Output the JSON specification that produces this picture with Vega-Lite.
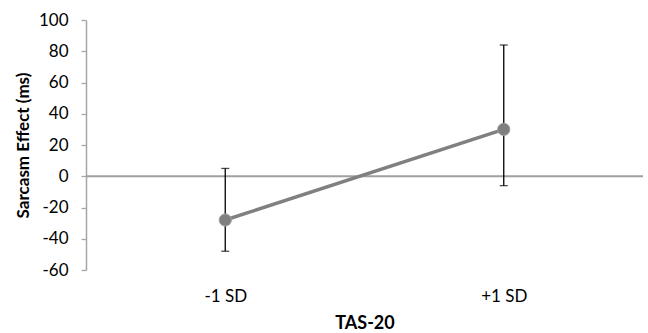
{
  "$schema": "https://vega.github.io/schema/vega-lite/v6.json",
  "width": 557,
  "height": 250,
  "autosize": {"type": "none"},
  "padding": {"left": 86, "top": 20, "right": 5, "bottom": 63},
  "background": "white",
  "config": {"view": {"stroke": null}, "font": "Lato"},
  "datasets": {
    "pts": [
      {"group": "-1 SD", "effect": -28, "lo": -48, "hi": 5},
      {"group": "+1 SD", "effect": 30, "lo": -6, "hi": 84}
    ],
    "zero": [{"v": 0}]
  },
  "layer": [
    {
      "data": {"name": "zero"},
      "mark": {"type": "rule", "color": "#a0a0a0", "strokeWidth": 2},
      "encoding": {
        "y": {"field": "v", "type": "quantitative",
          "scale": {"domain": [-60, 100], "nice": false, "zero": false},
          "axis": {"title": "Sarcasm Effect (ms)", "values": [-60, -40, -20, 0, 20, 40, 60, 80, 100],
            "tickCount": 9, "labelOverlap": false, "labelExpr": "datum.value + ''",
            "grid": false, "domainColor": "#a6a6a6", "domainWidth": 1.5, "tickColor": "#a6a6a6",
            "tickSize": 5, "tickWidth": 1.3, "labelPadding": 13, "labelFontSize": 17, "labelColor": "#000",
            "titleFontSize": 17, "titleFontWeight": "bold", "titleColor": "#000", "titlePadding": 6}}
      }
    },
    {
      "data": {"name": "pts"},
      "encoding": {
        "x": {"field": "group", "type": "ordinal", "sort": null,
          "scale": {"type": "point", "padding": 0.5},
          "axis": {"title": "TAS-20", "labelAngle": 0, "domain": false, "ticks": false,
            "labelPadding": 18, "labelFontSize": 17, "labelColor": "#000", "titleFontSize": 18,
            "titleFontWeight": "bold", "titleColor": "#000", "titlePadding": 10}}
      },
      "layer": [
        {"mark": {"type": "rule", "color": "#000", "strokeWidth": 1.3},
          "encoding": {"y": {"field": "lo", "type": "quantitative"}, "y2": {"field": "hi"}}},
        {"mark": {"type": "tick", "color": "#000", "thickness": 1.3, "size": 8, "orient": "horizontal"},
          "encoding": {"y": {"field": "lo", "type": "quantitative"}}},
        {"mark": {"type": "tick", "color": "#000", "thickness": 1.3, "size": 8, "orient": "horizontal"},
          "encoding": {"y": {"field": "hi", "type": "quantitative"}}},
        {"mark": {"type": "line", "color": "#808080", "strokeWidth": 3.5},
          "encoding": {"y": {"field": "effect", "type": "quantitative"}}},
        {"mark": {"type": "point", "filled": true, "color": "#7f7f7f", "size": 150, "opacity": 1,
            "stroke": "#a0a0a0", "strokeWidth": 1},
          "encoding": {"y": {"field": "effect", "type": "quantitative"}}}
      ]
    }
  ]
}
